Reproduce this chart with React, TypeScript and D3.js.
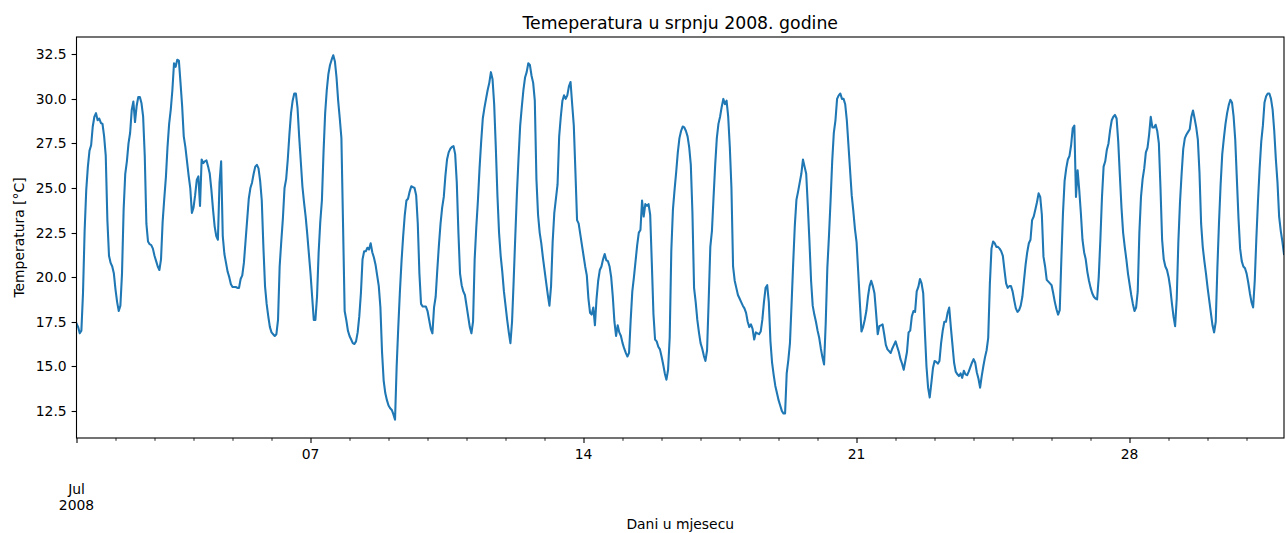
import * as d3 from "d3";
import { useEffect, useRef } from "react";

const title = "Temeperatura u srpnju 2008. godine";
const xLabel = "Dani u mjesecu";
const yLabel = "Temperatura [°C]";

// hourly series, starting 2008-07-01 00:00
const startDate = Date.UTC(2008, 6, 1);
const temps = [
  17.4, 17.2, 16.85, 17.0, 19.1, 22.6, 24.9, 26.2, 27.1, 27.4, 28.45, 29.0, 29.2, 28.8, 28.9, 28.65, 28.6, 27.9, 26.8, 23.2, 21.2, 20.8, 20.6, 20.2,
  19.3, 18.6, 18.1, 18.4, 20.2, 23.8, 25.8, 26.5, 27.5, 28.1, 29.4, 29.85, 28.7, 29.6, 30.1, 30.1, 29.75, 29.0, 26.8, 23.0, 22.0, 21.85, 21.8, 21.6,
  21.2, 20.9, 20.6, 20.4, 21.0, 23.1, 24.4, 25.6, 27.3, 28.6, 29.4, 30.5, 32.0, 31.8, 32.2, 32.15, 30.9, 29.6, 27.9, 27.3, 26.5, 25.7, 25.0, 23.6,
  23.9, 24.6, 25.45, 25.65, 24.0, 26.6, 26.4, 26.5, 26.55, 26.2, 25.8, 24.9, 23.8, 22.85, 22.3, 22.1, 25.3, 26.5, 22.3, 21.3, 20.8, 20.3, 20.0, 19.6,
  19.45, 19.45, 19.45, 19.4, 19.4, 19.9, 20.1, 20.8, 22.0, 23.2, 24.4, 25.0, 25.3, 25.8, 26.2, 26.3, 26.1, 25.4, 24.3, 21.7, 19.5, 18.5, 17.8, 17.2,
  16.9, 16.8, 16.7, 16.8, 17.6, 20.6, 22.0, 23.3, 25.0, 25.5, 26.6, 28.0, 29.2, 29.9, 30.3, 30.3, 29.5, 27.9, 26.5, 25.1, 24.2, 23.4, 22.4, 21.3,
  20.2, 18.9, 17.6, 17.6, 18.9, 21.4, 23.1, 24.3, 27.0, 29.2, 30.5, 31.4, 31.9, 32.2, 32.45, 32.1, 31.2, 29.9, 28.9, 27.8, 23.0, 18.1, 17.6, 17.0,
  16.7, 16.5, 16.3, 16.25, 16.4, 16.9, 17.8, 19.1, 21.0, 21.45, 21.45, 21.65, 21.55, 21.9, 21.4, 21.1, 20.7, 20.1, 19.5, 18.3, 15.8, 14.2, 13.5, 13.1,
  12.8, 12.65, 12.55, 12.3, 12.0, 15.0, 17.2, 19.2, 20.9, 22.3, 23.5, 24.3, 24.4, 24.8, 25.1, 25.05, 25.0, 24.6, 23.0, 20.2, 18.5, 18.35, 18.35, 18.35,
  18.1, 17.6, 17.1, 16.85, 18.3, 18.9, 20.4, 21.8, 23.0, 23.9, 24.5, 25.7, 26.6, 27.0, 27.2, 27.3, 27.35, 26.9, 25.3, 22.5, 20.2, 19.55, 19.2, 19.0,
  18.4, 17.8, 17.2, 16.85, 17.5, 21.0, 22.8, 24.3, 26.1, 27.6, 28.9, 29.5, 30.0, 30.5, 30.9, 31.5, 31.1, 29.7, 27.3, 24.6, 22.5, 21.2, 20.3, 19.2,
  18.4, 17.6, 16.9, 16.3, 17.5, 19.8, 22.3, 24.7, 26.7, 28.5, 29.55, 30.5, 31.2, 31.5, 32.0, 31.9, 31.3, 30.9, 29.9, 25.5, 23.5, 22.5, 21.9, 21.1,
  20.4, 19.7, 19.0, 18.4, 19.5, 22.0, 23.6, 24.4, 25.2, 27.9, 29.0, 29.9, 30.2, 30.0, 30.2, 30.7, 30.95, 29.7, 28.5, 25.9, 23.2, 23.0, 22.4, 21.8,
  21.2, 20.6, 20.1, 18.8, 18.0, 17.9, 18.3, 17.3, 18.8, 19.8, 20.4, 20.6, 21.0, 21.3, 20.95, 20.9, 20.6, 20.0, 18.9, 17.5, 16.7, 17.3, 16.9, 16.7,
  16.3, 16.0, 15.75, 15.55, 15.75, 17.6, 19.2, 20.0, 20.9, 21.8, 22.5, 22.65, 24.3, 23.4, 24.1, 24.0, 24.1, 23.5, 20.8, 17.95, 16.5, 16.4, 16.1, 15.95,
  15.55, 15.1, 14.6, 14.25, 14.8, 16.6, 21.5, 23.8, 24.9, 25.9, 27.0, 27.8, 28.2, 28.45, 28.4, 28.2, 27.9, 27.3, 26.3, 23.6, 19.4, 18.6, 17.6, 16.9,
  16.3, 16.0, 15.6, 15.3, 15.9, 18.7, 21.7, 22.6, 24.5, 26.3, 27.8, 28.6, 29.0, 29.55, 30.0, 29.7, 29.9, 29.0, 27.3, 25.0, 20.6, 19.8, 19.4, 19.0,
  18.8, 18.6, 18.4, 18.25, 18.0, 17.5, 17.2, 17.35, 17.1, 16.5, 16.9, 16.85, 16.8, 16.95, 17.6, 18.6, 19.4, 19.55, 18.6, 16.4, 15.2, 14.5, 13.9, 13.5,
  13.1, 12.8, 12.5, 12.35, 12.35, 14.6, 15.35, 16.3, 18.5, 20.8, 22.9, 24.35, 24.8, 25.3, 25.8, 26.6, 26.2, 25.8, 24.0, 22.0, 19.8, 18.4, 17.9, 17.5,
  17.0, 16.6, 16.0, 15.5, 15.1, 17.4, 20.5, 22.3, 24.3, 26.5, 28.1, 28.8, 30.0, 30.2, 30.3, 30.0, 30.0, 29.7, 28.8, 27.4, 26.0, 24.6, 23.7, 22.7,
  21.95, 20.3, 18.6, 16.95, 17.2, 17.6, 18.1, 18.9, 19.5, 19.8, 19.5, 19.1, 18.0, 16.8, 17.25, 17.3, 17.35, 16.8, 16.2, 15.95, 15.85, 15.75, 16.0, 16.2,
  16.4, 16.1, 15.8, 15.4, 15.15, 14.8, 15.3, 15.8, 16.9, 17.0, 17.8, 18.1, 18.05, 19.2, 19.45, 19.9, 19.65, 19.1, 17.0, 15.0, 13.8, 13.25, 14.05, 14.9,
  15.3, 15.25, 15.15, 15.3, 16.3, 17.0, 17.5, 17.5, 18.0, 18.3, 17.2, 16.2, 15.2, 14.7, 14.55, 14.45, 14.6, 14.35, 14.75, 14.55, 14.5, 14.7, 14.95, 15.2,
  15.4, 15.2, 14.65, 14.3, 13.8, 14.45, 15.0, 15.5, 15.9, 16.6, 19.6, 21.6, 22.0, 21.9, 21.7, 21.7, 21.6, 21.45, 21.2, 20.4, 19.65, 19.4, 19.5, 19.5,
  19.2, 18.7, 18.25, 18.05, 18.15, 18.4, 18.9, 19.8, 20.7, 21.4, 21.9, 22.1, 23.2, 23.4, 23.8, 24.2, 24.7, 24.5, 23.5, 21.15, 20.6, 19.85, 19.75, 19.65,
  19.55, 19.1, 18.6, 18.2, 17.9, 18.15, 21.0, 23.6, 25.4, 26.1, 26.6, 26.8, 27.4, 28.35, 28.5, 24.5, 26.0, 24.9, 23.6, 22.1, 21.4, 21.0, 20.3, 19.8,
  19.4, 19.1, 18.9, 18.8, 18.75, 20.0, 22.1, 24.5, 26.2, 26.5, 27.15, 27.5, 28.25, 28.8, 29.0, 29.1, 28.9, 27.6, 25.7, 23.9, 22.5, 21.7, 21.0, 20.2,
  19.6, 19.0, 18.5, 18.1, 18.3, 19.2, 22.5, 24.5, 25.5, 26.1, 27.0, 27.25, 28.0, 29.0, 28.4, 28.4, 28.55, 28.2, 27.5, 25.0, 22.1, 21.0, 20.6, 20.4,
  20.0, 19.4, 18.55, 17.8, 17.25, 18.8, 22.0, 24.2, 25.8, 27.2, 27.8, 28.0, 28.15, 28.3, 29.0, 29.35, 28.9, 28.4, 27.7, 25.85, 23.0, 21.7, 20.9, 20.2,
  19.4, 18.7, 18.0, 17.3, 16.9, 17.5, 20.5, 23.05, 25.2, 26.9, 27.8, 28.6, 29.2, 29.65, 29.95, 29.8, 29.0, 27.7, 25.5, 23.3, 21.6, 20.9, 20.6, 20.5,
  20.2, 19.7, 19.1, 18.6, 18.3, 19.8, 22.2, 24.3, 26.1, 27.6, 28.5, 29.8, 30.15, 30.3, 30.3, 30.0, 29.4, 28.2, 26.6, 25.3, 23.4, 22.6, 22.0, 21.3,
];

const majorDays = [1, 7, 14, 21, 28];
const majorLabels = ["", "07", "14", "21", "28"];
const monthLabel = ["Jul", "2008"];
const yTicks = [12.5, 15, 17.5, 20, 22.5, 25, 27.5, 30, 32.5];

export default function App() {
  const svgRef = useRef(null);

  useEffect(() => {
    const width = 1286;
    const height = 533;
    const margin = { top: 37, right: 2, bottom: 95, left: 76.5 };
    const innerW = width - margin.left - margin.right;
    const innerH = height - margin.top - margin.bottom;
    const font = "DejaVu Sans, sans-serif";

    const root = d3.select(svgRef.current);
    root.selectAll("*").remove();
    root.attr("width", width).attr("height", height);

    const data = temps.map((t, i) => ({ date: new Date(startDate + i * 3600 * 1000), value: t }));

    const x = d3
      .scaleUtc()
      .domain(d3.extent(data, (d) => d.date))
      .range([0, innerW]);

    // matplotlib style 5% margins
    const [lo, hi] = d3.extent(temps);
    const pad = (hi - lo) * 0.05;
    const y = d3
      .scaleLinear()
      .domain([lo - pad, hi + pad])
      .range([innerH, 0]);

    const svg = root.append("g").attr("transform", `translate(${margin.left},${margin.top})`);

    svg
      .append("clipPath")
      .attr("id", "plot-clip")
      .append("rect")
      .attr("width", innerW)
      .attr("height", innerH);

    // the line
    const line = d3
      .line()
      // @ts-expect-error
      .x((d) => x(d.date))
      // @ts-expect-error
      .y((d) => y(d.value));

    svg
      .append("path")
      .datum(data)
      .attr("clip-path", "url(#plot-clip)")
      .attr("fill", "none")
      .attr("stroke", "#1f77b4")
      .attr("stroke-width", 2.08)
      .attr("stroke-linejoin", "round")
      .attr("stroke-linecap", "square")
      // @ts-expect-error
      .attr("d", line);

    // y axis ticks + labels
    const yAxis = svg.append("g");
    yTicks.forEach((t) => {
      const yy = Math.round(y(t)) + 0.5;
      yAxis
        .append("line")
        .attr("x1", -4.9)
        .attr("x2", 0)
        .attr("y1", yy)
        .attr("y2", yy)
        .attr("stroke", "#000")
        .attr("stroke-width", 1.1);
      yAxis
        .append("text")
        .attr("x", -9.8)
        .attr("y", yy)
        .attr("dy", "0.35em")
        .attr("text-anchor", "end")
        .attr("font-family", font)
        .attr("font-size", 13.9)
        .attr("fill", "#000")
        .text(d3.format(".1f")(t));
    });

    // x axis: minor ticks every day, major ticks on week days
    const xAxis = svg.append("g").attr("transform", `translate(0,${innerH})`);
    const days = d3.utcDay.range(new Date(startDate), new Date(Date.UTC(2008, 7, 1)));
    days.forEach((d) => {
      const isMajor = majorDays.includes(d.getUTCDate());
      const xx = Math.round(x(d)) + 0.5;
      xAxis
        .append("line")
        .attr("x1", xx)
        .attr("x2", xx)
        .attr("y1", 0)
        .attr("y2", isMajor ? 4.9 : 2.8)
        .attr("stroke", "#000")
        .attr("stroke-width", isMajor ? 1.1 : 0.85);
    });
    majorDays.forEach((day, i) => {
      const xx = x(new Date(Date.UTC(2008, 6, day)));
      xAxis
        .append("text")
        .attr("x", xx)
        .attr("y", 20.5)
        .attr("text-anchor", "middle")
        .attr("font-family", font)
        .attr("font-size", 13.9)
        .attr("fill", "#000")
        .text(majorLabels[i]);
    });
    monthLabel.forEach((s, i) => {
      xAxis
        .append("text")
        .attr("x", x(new Date(startDate)))
        .attr("y", 55.5 + i * 16.7)
        .attr("text-anchor", "middle")
        .attr("font-family", font)
        .attr("font-size", 13.9)
        .attr("fill", "#000")
        .text(s);
    });

    // spines
    svg
      .append("rect")
      .attr("width", innerW)
      .attr("height", innerH)
      .attr("fill", "none")
      .attr("stroke", "#000")
      .attr("stroke-width", 1.1);

    // title and axis labels
    root
      .append("text")
      .attr("x", margin.left + innerW / 2)
      .attr("y", 28.5)
      .attr("text-anchor", "middle")
      .attr("font-family", font)
      .attr("font-size", 17.3)
      .attr("fill", "#000")
      .text(title);

    root
      .append("text")
      .attr("x", margin.left + innerW / 2)
      .attr("y", 528.5)
      .attr("text-anchor", "middle")
      .attr("font-family", font)
      .attr("font-size", 13.9)
      .attr("fill", "#000")
      .text(xLabel);

    root
      .append("text")
      .attr("transform", `translate(24,${margin.top + innerH / 2}) rotate(-90)`)
      .attr("text-anchor", "middle")
      .attr("font-family", font)
      .attr("font-size", 13.9)
      .attr("fill", "#000")
      .text(yLabel);
  }, []);

  return (
    <div style={{ position: "fixed", left: 0, top: 0, background: "#fff" }}>
      <svg ref={svgRef}></svg>
    </div>
  );
}
